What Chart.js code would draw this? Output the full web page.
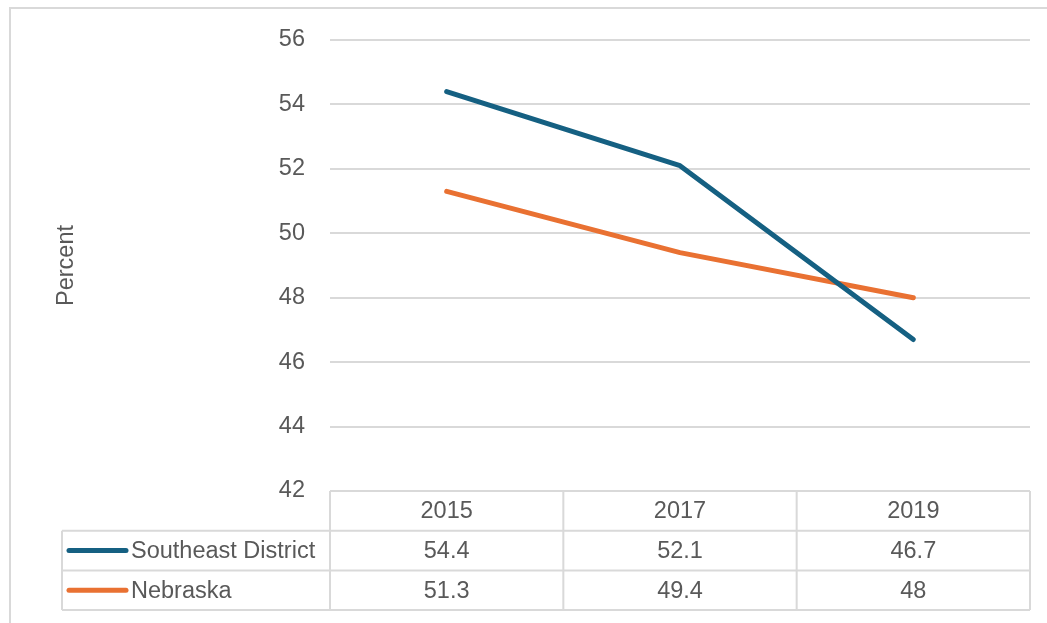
<!DOCTYPE html>
<html>
<head>
<meta charset="utf-8">
<script src="https://cdn.jsdelivr.net/npm/chart.js@4/dist/chart.umd.min.js"></script>
<style>
    html, body { margin: 0; padding: 0; background: #fff; }
    #wrap { width: 1047px; height: 623px; position: relative; }
</style>
</head>
<body>
<div id="wrap"><canvas id="chart" width="1047" height="623"></canvas></div>
<script>
/* ---------------- Data ---------------- */

const years = ["2015", "2017", "2019"];
const southeast = [54.4, 52.1, 46.7];
const nebraska = [51.3, 49.4, 48];
const seriesNames = ["Southeast District", "Nebraska"];
const seriesColors = ["#156082", "#E97132"];

const textColor = "#595959";
const lineGray = "#d9d9d9";
const fontFamily = "'Liberation Sans', Arial, sans-serif";
const fontSize = 23.5;

/* ---------------- Frame + data table ---------------- */

const framePlugin = {
    id: "frame",
    beforeDraw(chart) {
        const ctx = chart.ctx;
        ctx.save();
        ctx.strokeStyle = lineGray;
        ctx.lineWidth = 2;
        ctx.beginPath();
        ctx.moveTo(10, 623);
        ctx.lineTo(10, 8);
        ctx.lineTo(1047, 8);
        ctx.stroke();
        ctx.restore();
    }
};

const dataTablePlugin = {
    id: "dataTable",
    afterDraw(chart) {
        const ctx = chart.ctx;
        const x = chart.scales.x;
        const area = chart.chartArea;
        const rowH = 39.7;
        const top = area.bottom;
        const labelLeft = 62;

        // column boundaries from the category scale
        const centers = years.map((_, i) => x.getPixelForValue(i));
        const edges = [area.left];
        for (let i = 0; i < centers.length - 1; i++) {
            edges.push((centers[i] + centers[i + 1]) / 2);
        }
        edges.push(area.right);

        ctx.save();
        ctx.strokeStyle = lineGray;
        ctx.lineWidth = 2;
        ctx.beginPath();
        // header row
        ctx.moveTo(area.left, top);
        ctx.lineTo(area.right, top);
        // series rows
        for (let r = 1; r <= 3; r++) {
            ctx.moveTo(labelLeft, top + rowH * r);
            ctx.lineTo(area.right, top + rowH * r);
        }
        ctx.moveTo(labelLeft, top + rowH);
        ctx.lineTo(labelLeft, top + rowH * 3);
        edges.forEach(ex => {
            ctx.moveTo(ex, top);
            ctx.lineTo(ex, top + rowH * 3);
        });
        ctx.stroke();

        ctx.font = fontSize + "px " + fontFamily;
        ctx.fillStyle = textColor;
        ctx.textAlign = "center";
        ctx.textBaseline = "middle";

        years.forEach((y, i) => {
            ctx.fillText(y, centers[i], top + rowH * 0.5 + 1);
        });

        chart.data.datasets.forEach((ds, r) => {
            const cy = top + rowH * (r + 1.5);
            ds.data.forEach((v, i) => {
                ctx.fillText(String(v), centers[i], cy + 1);
            });

            // legend key
            ctx.strokeStyle = ds.borderColor;
            ctx.lineWidth = 5;
            ctx.lineCap = "round";
            ctx.beginPath();
            ctx.moveTo(69, cy);
            ctx.lineTo(126, cy);
            ctx.stroke();

            ctx.textAlign = "left";
            ctx.fillText(ds.label, 131, cy + 1);
            ctx.textAlign = "center";
        });

        ctx.restore();
    }
};

/* ---------------- Chart ---------------- */

const ctx = document.getElementById("chart").getContext("2d");

new Chart(ctx, {
    type: "line",
    data: {
        labels: years,
        datasets: [
            {
                label: seriesNames[0],
                data: southeast,
                borderColor: seriesColors[0],
                backgroundColor: seriesColors[0],
                borderWidth: 5,
                pointRadius: 0,
                borderCapStyle: "round",
                borderJoinStyle: "round",
                tension: 0
            },
            {
                label: seriesNames[1],
                data: nebraska,
                borderColor: seriesColors[1],
                backgroundColor: seriesColors[1],
                borderWidth: 5,
                pointRadius: 0,
                borderCapStyle: "round",
                borderJoinStyle: "round",
                tension: 0
            }
        ]
    },
    options: {
        responsive: false,
        animation: false,
        layout: {
            padding: { left: 0, right: 17, top: 40, bottom: 132 }
        },
        plugins: {
            legend: { display: false },
            tooltip: { enabled: false }
        },
        scales: {
            x: {
                type: "category",
                display: false,
                offset: true
            },
            y: {
                min: 42,
                max: 56,
                ticks: {
                    stepSize: 2,
                    color: textColor,
                    padding: 25,
                    font: { family: fontFamily, size: fontSize }
                },
                grid: {
                    color: lineGray,
                    lineWidth: 2,
                    drawTicks: false
                },
                border: { display: false },
                title: {
                    display: true,
                    text: "Percent",
                    color: textColor,
                    padding: { top: 52, bottom: 0 },
                    font: { family: fontFamily, size: fontSize }
                },
                afterFit(scale) {
                    scale.width = 330;
                }
            }
        }
    },
    plugins: [framePlugin, dataTablePlugin]
});
</script>
</body>
</html>
